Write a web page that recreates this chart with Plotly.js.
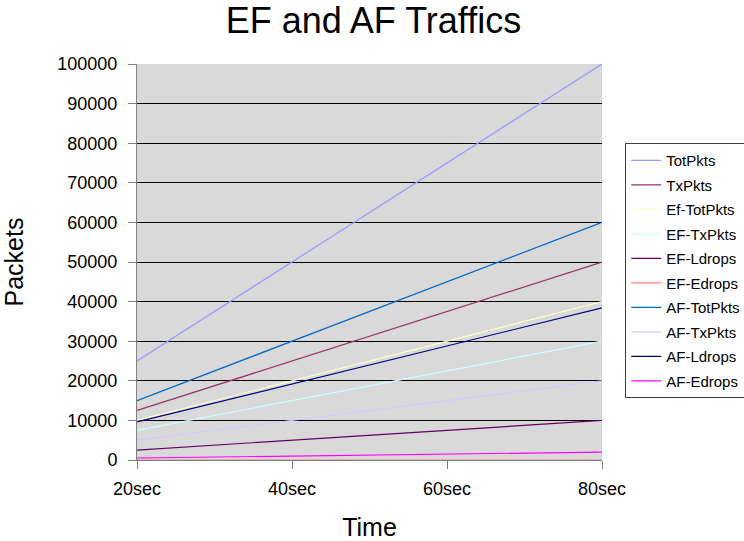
<!DOCTYPE html>
<html>
<head>
<meta charset="utf-8">
<script src="https://cdn.plot.ly/plotly-3.0.1.min.js"></script>
<style>html,body{margin:0;padding:0;background:#fff;}#chart{width:744px;height:541px;}</style>
</head>
<body>
<div id="chart"></div>
<script>
const categories = ['20sec', '40sec', '60sec', '80sec'];
const totPkts    = [25000, 50000, 75000, 100000];
const txPkts     = [12500, 25000, 37500, 50000];
const efTotPkts  = [10000, 20000, 30000, 40000];
const efTxPkts   = [7500, 15000, 22500, 30000];
const efLdrops   = [2500, 5000, 7500, 10000];
const efEdrops   = [0, 0, 0, 0];
const afTotPkts  = [15000, 30000, 45000, 60000];
const afTxPkts   = [5000, 10000, 15000, 20000];
const afLdrops   = [9600, 19200, 28800, 38400];
const afEdrops   = [500, 1000, 1500, 2000];
const yTicks = [0,10000,20000,30000,40000,50000,60000,70000,80000,90000,100000];

const series = [
  {name: 'TotPkts',    y: totPkts,   color: '#9999FF'},
  {name: 'TxPkts',     y: txPkts,    color: '#993366'},
  {name: 'Ef-TotPkts', y: efTotPkts, color: '#FFFFCC'},
  {name: 'EF-TxPkts',  y: efTxPkts,  color: '#CCFFFF'},
  {name: 'EF-Ldrops',  y: efLdrops,  color: '#660066'},
  {name: 'EF-Edrops',  y: efEdrops,  color: '#FF8080'},
  {name: 'AF-TotPkts', y: afTotPkts, color: '#0066CC'},
  {name: 'AF-TxPkts',  y: afTxPkts,  color: '#CCCCFF'},
  {name: 'AF-Ldrops',  y: afLdrops,  color: '#000080'},
  {name: 'AF-Edrops',  y: afEdrops,  color: '#FF00FF'}
];

const traces = series.map((s, i) => ({
  type: 'scatter', mode: 'lines', x: categories, y: s.y, name: s.name,
  legendgroup: 'g' + i,
  line: {color: s.color, width: 1.2}
}));

const font = 'Liberation Sans, Arial, sans-serif';
const layout = {
  width: 744, height: 541,
  margin: {l: 137, r: 142, t: 64, b: 81, autoexpand: false},
  paper_bgcolor: '#ffffff',
  plot_bgcolor: '#D9D9D9',
  font: {family: font, color: '#000', size: 18},
  title: {text: 'EF and AF Traffics', font: {family: font, size: 36, color: '#000'},
          x: 0.502, xanchor: 'center', y: 0.962, yanchor: 'middle', yref: 'container'},
  xaxis: {
    type: 'category', range: [0, 3],
    showgrid: false, zeroline: false,
    showline: true, linecolor: '#808080', linewidth: 1,
    ticks: 'outside', ticklen: 8, tickcolor: '#808080',
    tickfont: {size: 18}, ticklabelstandoff: 4,
    title: {text: 'Time', font: {size: 25}, standoff: 22}
  },
  yaxis: {
    range: [0, 100000], tickvals: yTicks, ticktext: yTicks.map(String),
    showgrid: true, gridcolor: '#000000', gridwidth: 1,
    zeroline: false,
    showline: true, linecolor: '#808080', linewidth: 1,
    ticks: 'outside', ticklen: 8, tickcolor: '#808080',
    tickfont: {size: 18}, ticklabelstandoff: 7,
    title: {text: 'Packets', font: {size: 25}, standoff: 26}
  },
  showlegend: true,
  legend: {
    x: 1.05, xanchor: 'left', y: 0.80, yanchor: 'top',
    bgcolor: '#ffffff', bordercolor: '#404040', borderwidth: 1,
    font: {size: 15}, tracegroupgap: 2, itemwidth: 30
  }
};

Plotly.newPlot('chart', traces, layout, {displayModeBar: false, staticPlot: true});
</script>
</body>
</html>
